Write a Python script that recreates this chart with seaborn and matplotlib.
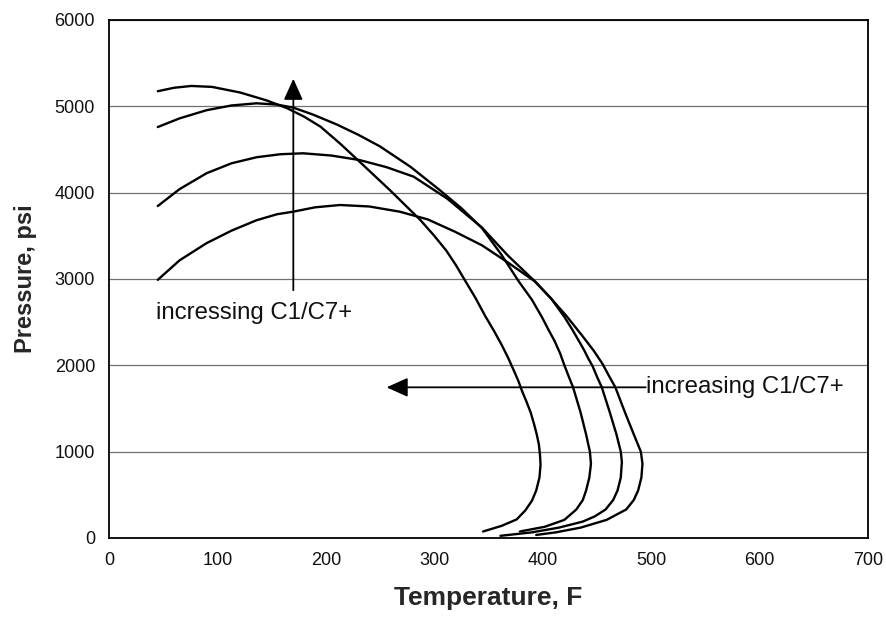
import matplotlib
matplotlib.use("Agg")
import matplotlib.pyplot as plt
import seaborn as sns
import pandas as pd

# Phase envelopes (temperature in F, pressure in psi) for four C1/C7+ ratios
env1_T = [45, 60, 76, 95, 121, 145, 164, 180, 195, 213, 231, 259, 287, 300, 311, 320, 328, 338, 347,
          355, 362, 368, 373, 377.5, 381, 385, 389, 392, 394.5, 396.5, 397.5, 398, 397, 394, 390, 384, 376, 362, 345]
env1_P = [5175, 5215, 5236, 5225, 5160, 5070, 4980, 4880, 4765, 4570, 4360, 4030, 3685, 3500, 3330, 3160, 2990, 2780, 2570,
          2400, 2240, 2090, 1950, 1820, 1700, 1580, 1450, 1320, 1200, 1080, 960, 850, 700, 550, 430, 320, 215, 140, 75]

env2_T = [45, 65, 90, 113, 136, 155, 170, 188, 210, 230, 250, 278, 305, 325, 344, 362, 378,
          390, 399, 405, 411, 416, 420, 424, 428, 435, 440, 443.5, 444.5, 443, 440, 437, 431, 420, 402, 379]
env2_P = [4760, 4860, 4955, 5010, 5035, 5020, 4985, 4905, 4790, 4670, 4535, 4300, 4030, 3820, 3590, 3280, 2970,
          2760, 2565, 2420, 2280, 2140, 2000, 1870, 1745, 1450, 1200, 1000, 860, 700, 550, 440, 330, 210, 130, 75]

env3_T = [45, 65, 90, 113, 136, 158, 179, 205, 231, 256, 281, 312, 344, 368, 393, 408, 420,
          427, 433, 438, 442, 446, 450, 454.5, 462, 468, 472, 473, 472, 469, 465, 458, 448, 437, 415, 390, 361]
env3_P = [3845, 4040, 4225, 4340, 4410, 4445, 4456, 4430, 4378, 4295, 4185, 3930, 3595, 3270, 2970, 2770, 2560,
          2420, 2290, 2180, 2080, 1990, 1870, 1745, 1450, 1200, 1000, 880, 700, 550, 440, 330, 250, 190, 120, 65, 25]

env4_T = [45, 65, 90, 113, 136, 155, 170, 190, 213, 240, 268, 294, 319, 344, 368, 393, 408, 422,
          436, 447, 455, 461, 467, 476, 484, 490.5, 492, 491, 488, 484, 477, 459, 435, 412, 394]
env4_P = [2990, 3215, 3415, 3560, 3680, 3750, 3780, 3830, 3857, 3840, 3780, 3690, 3548, 3390, 3190, 2970, 2770, 2570,
          2350, 2170, 2020, 1880, 1745, 1450, 1200, 1000, 860, 700, 550, 440, 330, 210, 120, 65, 35]

x_ticks = [0, 100, 200, 300, 400, 500, 600, 700]
y_ticks = [0, 1000, 2000, 3000, 4000, 5000, 6000]

frames = []
for name, T, P in [("1", env1_T, env1_P), ("2", env2_T, env2_P),
                   ("3", env3_T, env3_P), ("4", env4_T, env4_P)]:
    frames.append(pd.DataFrame({"T": T, "P": P, "curve": name}))
data = pd.concat(frames, ignore_index=True)

sns.set_theme(style="white")
plt.rcParams["font.family"] = ["Liberation Sans", "DejaVu Sans"]

fig = plt.figure(figsize=(8.86, 6.21), dpi=100)
ax = fig.add_axes([0.123, 0.1337, 0.8567, 0.8341])

for name, grp in data.groupby("curve"):
    sns.lineplot(data=grp, x="T", y="P", sort=False, estimator=None,
                 color="black", linewidth=1.7, ax=ax, legend=False)

ax.set_xlim(0, 700)
ax.set_ylim(0, 6000)
ax.set_xticks(x_ticks)
ax.set_yticks(y_ticks)
ax.tick_params(axis="both", direction="out", length=5, width=1, color="black",
               labelsize=13, labelcolor="#111111", pad=5)
ax.yaxis.grid(True, color="#707070", linewidth=0.9)
ax.xaxis.grid(False)
for s in ax.spines.values():
    s.set_visible(True)
    s.set_color("black")
    s.set_linewidth(1.3)

ax.set_xlabel("Temperature, F", fontsize=19, fontweight="bold", labelpad=12)
ax.set_ylabel("Pressure, psi", fontsize=17, fontweight="bold", labelpad=13)

arrow_style = dict(arrowstyle="-|>,head_length=1.0,head_width=0.45", color="black",
                   lw=1.3, mutation_scale=13, shrinkA=0, shrinkB=0)
# vertical arrow
ax.annotate("", xy=(170, 5320), xytext=(170, 2870), arrowprops=arrow_style)
ax.text(43, 2610, "incressing C1/C7+", fontsize=17.3, ha="left", va="center", color="#111111")
# horizontal arrow
ax.annotate("", xy=(256, 1745), xytext=(495, 1745), arrowprops=arrow_style)
ax.text(495, 1745, "increasing C1/C7+", fontsize=17.3, ha="left", va="center", color="#111111")

fig.savefig("out.png", dpi=100)
